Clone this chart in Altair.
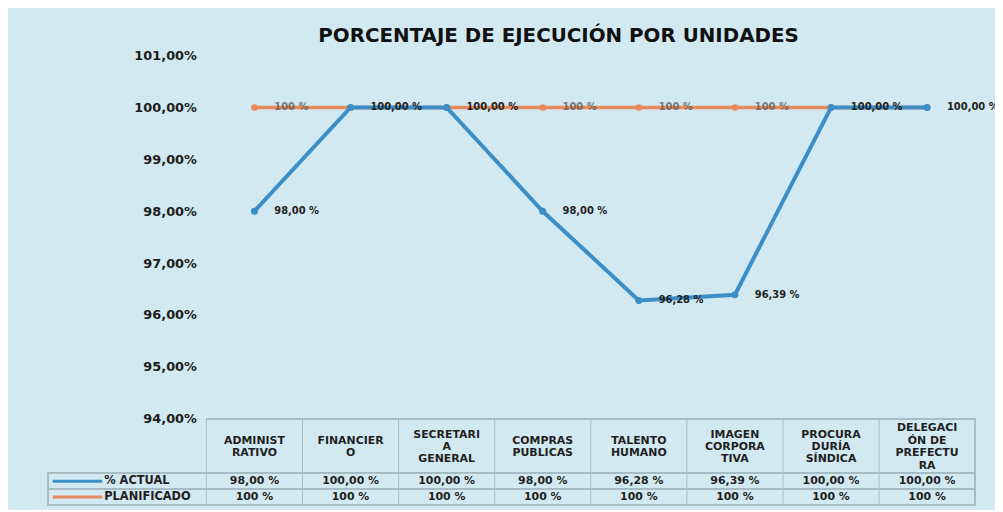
import altair as alt
import pandas as pd

# ---- data ----
categories = ["ADMINISTRATIVO", "FINANCIERO", "SECRETARIA GENERAL", "COMPRAS PUBLICAS",
              "TALENTO HUMANO", "IMAGEN CORPORATIVA", "PROCURADURÍA SÍNDICA",
              "DELEGACIÓN DE PREFECTURA"]
header_labels = ["ADMINIST\nRATIVO", "FINANCIER\nO", "SECRETARI\nA\nGENERAL",
                 "COMPRAS\nPUBLICAS", "TALENTO\nHUMANO", "IMAGEN\nCORPORA\nTIVA",
                 "PROCURA\nDURÍA\nSÍNDICA", "DELEGACI\nÓN DE\nPREFECTU\nRA"]
actual = [98.00, 100.00, 100.00, 98.00, 96.28, 96.39, 100.00, 100.00]
planned = [100, 100, 100, 100, 100, 100, 100, 100]
series_names = ["% ACTUAL", "PLANIFICADO"]
y_ticks = [94, 95, 96, 97, 98, 99, 100, 101]
title_text = "PORCENTAJE DE EJECUCIÓN POR UNIDADES"

BLUE = "#3b8fc6"
ORANGE = "#e98a5c"
BG = "#d2e9f1"
GRID = "#a8bcc4"
FONT = "DejaVu Sans"

W, H = 775, 366


def fmt_actual(v):
    return f"{v:.2f}".replace(".", ",") + " %"


def fmt_planned(v):
    return f"{v:g} %"


rows = []
for c, h, a, p in zip(categories, header_labels, actual, planned):
    rows.append({"cat": c, "header": h, "series": series_names[0], "value": a,
                 "label": fmt_actual(a), "other": p})
    rows.append({"cat": c, "header": h, "series": series_names[1], "value": p,
                 "label": fmt_planned(p), "other": a})
df = pd.DataFrame(rows)
cats_df = pd.DataFrame({"cat": categories, "header": header_labels,
                        "nlines": [h.count("\n") + 1 for h in header_labels]})

xscale = alt.Scale(type="band", domain=categories, paddingInner=0, paddingOuter=0)


def X(bp):
    return alt.X("cat:N", scale=xscale, axis=None, bandPosition=bp)


yscale = alt.Scale(domain=[94, 101], nice=False, zero=False)
yaxis = alt.Axis(values=y_ticks, grid=False, domain=False, ticks=False,
                 labelExpr="replace(format(datum.value, '.2f'), '.', ',') + '%'",
                 labelFont=FONT, labelFontWeight="bold", labelFontSize=13,
                 labelColor="#1c1c1c", labelPadding=10, title=None)
Y = alt.Y("value:Q", scale=yscale, axis=yaxis)

base = alt.Chart(df)

# ---- table grid ----
TOP, HB, R1, R2 = H, 421, 437, 453
LEFT = -160
table_rules = [
    base.mark_rule(color=GRID, strokeWidth=1).encode(x=alt.value(0), x2=alt.value(W), y=alt.value(TOP)),
    base.mark_rule(color=GRID, strokeWidth=1).encode(x=alt.value(LEFT), x2=alt.value(W), y=alt.value(HB)),
    base.mark_rule(color=GRID, strokeWidth=1).encode(x=alt.value(LEFT), x2=alt.value(W), y=alt.value(R1)),
    base.mark_rule(color=GRID, strokeWidth=1).encode(x=alt.value(LEFT), x2=alt.value(W), y=alt.value(R2)),
    base.mark_rule(color=GRID, strokeWidth=1).encode(x=alt.value(W), y=alt.value(TOP), y2=alt.value(R2)),
    base.mark_rule(color=GRID, strokeWidth=1).encode(x=alt.value(LEFT), y=alt.value(HB), y2=alt.value(R2)),
    alt.Chart(cats_df).mark_rule(color=GRID, strokeWidth=1).encode(
        x=X(0), y=alt.value(TOP), y2=alt.value(R2)),
]

LH = 12.5
center = (TOP + HB) / 2 + 1
header_layers = []
for n in sorted(set(cats_df["nlines"])):
    header_layers.append(
        alt.Chart(cats_df).transform_filter(alt.datum.nlines == n).mark_text(
            font=FONT, fontWeight="bold", fontSize=11, lineHeight=LH, lineBreak="\n",
            align="center", baseline="middle", color="#1f1f1f"
        ).encode(x=X(0.5), y=alt.value(center - (n - 1) * LH / 2), text="header:N"))

row_y = {series_names[0]: (HB + R1) / 2, series_names[1]: (R1 + R2) / 2}
row_color = {series_names[0]: BLUE, series_names[1]: ORANGE}

table_layers = []
for s in series_names:
    sub = base.transform_filter(alt.datum.series == s)
    table_layers.append(sub.mark_text(font=FONT, fontWeight="bold", fontSize=11,
                                      align="center", baseline="middle", color="#1f1f1f"
                                      ).encode(x=X(0.5), y=alt.value(row_y[s]), text="label:N"))
    leg = alt.Chart(pd.DataFrame({"series": [s]}))
    table_layers.append(leg.mark_rule(color=row_color[s], strokeWidth=3).encode(
        x=alt.value(-155), x2=alt.value(-105), y=alt.value(row_y[s])))
    table_layers.append(leg.mark_text(font=FONT, fontWeight="bold", fontSize=11.5,
                                      align="left", baseline="middle", color="#1f1f1f"
                                      ).encode(x=alt.value(-103), y=alt.value(row_y[s]),
                                               text="series:N"))

# ---- lines ----
plan = base.transform_filter(alt.datum.series == series_names[1])
act = base.transform_filter(alt.datum.series == series_names[0])

plan_line = plan.mark_line(color=ORANGE, strokeWidth=3.5,
                           point=alt.OverlayMarkDef(color=ORANGE, size=45, filled=True)
                           ).encode(x=X(0.5), y=Y)
plan_labels = plan.transform_filter(alt.datum.other != alt.datum.value).mark_text(
    font=FONT, fontWeight="bold", fontSize=10, align="left", baseline="middle",
    dx=20, color="#555555", opacity=0.75).encode(x=X(0.5), y=Y, text="label:N")
act_line = act.mark_line(color=BLUE, strokeWidth=4,
                         point=alt.OverlayMarkDef(color=BLUE, size=50, filled=True)
                         ).encode(x=X(0.5), y=Y)
act_labels = act.mark_text(font=FONT, fontWeight="bold", fontSize=10, align="left",
                           baseline="middle", dx=20, color="#222222"
                           ).encode(x=X(0.5), y=Y, text="label:N")

title = alt.Chart(pd.DataFrame({"t": [title_text]})).mark_text(
    font=FONT, fontWeight="bold", fontSize=20, align="center", baseline="middle",
    color="#111111").encode(x=alt.value(355), y=alt.value(-20), text="t:N")

chart = alt.layer(
    *table_rules, *header_layers, *table_layers,
    plan_line, plan_labels, act_line, act_labels, title
).properties(
    width=W, height=H,
    padding={"left": 200, "top": 46, "right": 20, "bottom": 90},
    autosize=alt.AutoSizeParams(type="none"),
).configure(background=BG).configure_view(stroke=None)

chart.save("out.html", embed_options={"renderer": "svg", "actions": False})
